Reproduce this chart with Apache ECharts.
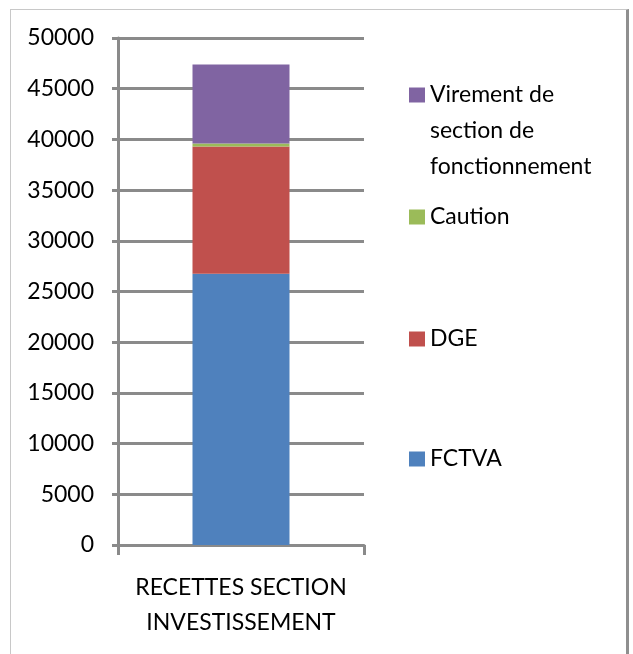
<!DOCTYPE html>
<html>
<head>
<meta charset="utf-8">
<script src="https://cdn.jsdelivr.net/npm/echarts@6/dist/echarts.min.js"></script>
<style>
  html, body { margin: 0; padding: 0; background: #fff; }
  .frame {
    position: absolute; left: 10px; top: 9px; width: 615px; height: 660px;
    border-left: 1px solid #c8c8c8; border-top: 1px solid #c8c8c8;
    border-right: 3px solid #8f8f8f;
  }
  #chart { position: absolute; left: 0; top: 0; width: 633px; height: 654px; }
</style>
</head>
<body>
<div class="frame"></div>
<div id="chart"></div>
<script>
  // données
  const categories = ['RECETTES SECTION\nINVESTISSEMENT'];
  const fctva = [26750];
  const dge = [12540];
  const caution = [300];
  const virement = [7800];
  const yTicks = { min: 0, max: 50000, interval: 5000 };

  const font = 'Lato';
  const gray = '#8a8a8a';

  let chart = echarts.init(document.getElementById('chart'));

  function bar(name, data, color) {
    return {
      name: name,
      type: 'bar',
      stack: 'total',
      barWidth: 97,
      data: data,
      itemStyle: { color: color }
    };
  }

  // une légende par série, pour placer chaque élément comme dans Excel
  function legendAt(name, top, extra) {
    return Object.assign({
      data: [name],
      left: 409,
      top: top,
      padding: 0,
      icon: 'rect',
      itemWidth: 16,
      itemHeight: 15,
      itemGap: 5,
      selectedMode: false,
      textStyle: { fontFamily: font, fontSize: 23, color: '#000', lineHeight: 36 }
    }, extra || {});
  }

  chart.setOption({
    animation: false,
    grid: { left: 118, right: 269, top: 38, bottom: 109 },
    legend: [
      // deux lignes vides en tête : le carré reste en face de la première ligne
      legendAt('Virement de section de fonctionnement', 5, {
        formatter: function () { return ' \n \nVirement de\nsection de\nfonctionnement'; }
      }),
      legendAt('Caution', 199),
      legendAt('DGE', 321),
      legendAt('FCTVA', 441)
    ],
    xAxis: {
      type: 'category',
      data: categories,
      axisLine: { lineStyle: { color: gray, width: 3 } },
      axisTick: { show: true, length: 10, lineStyle: { color: gray, width: 3 } },
      axisLabel: {
        interval: 0,
        margin: 25,
        fontFamily: font,
        fontSize: 23,
        lineHeight: 35,
        color: '#000'
      }
    },
    yAxis: {
      type: 'value',
      min: yTicks.min,
      max: yTicks.max,
      interval: yTicks.interval,
      axisLine: { show: true, lineStyle: { color: gray, width: 3 } },
      axisTick: { show: true, length: 6, lineStyle: { color: gray, width: 3 } },
      splitLine: { lineStyle: { color: gray, width: 3 } },
      axisLabel: {
        margin: 24, fontFamily: font, fontSize: 23, color: '#000',
        formatter: function (v) { return String(v); }
      }
    },
    series: [
      bar('FCTVA', fctva, '#4f81bd'),
      bar('DGE', dge, '#c0504d'),
      bar('Caution', caution, '#9bbb59'),
      bar('Virement de section de fonctionnement', virement, '#8064a2')
    ]
  });
</script>
</body>
</html>
